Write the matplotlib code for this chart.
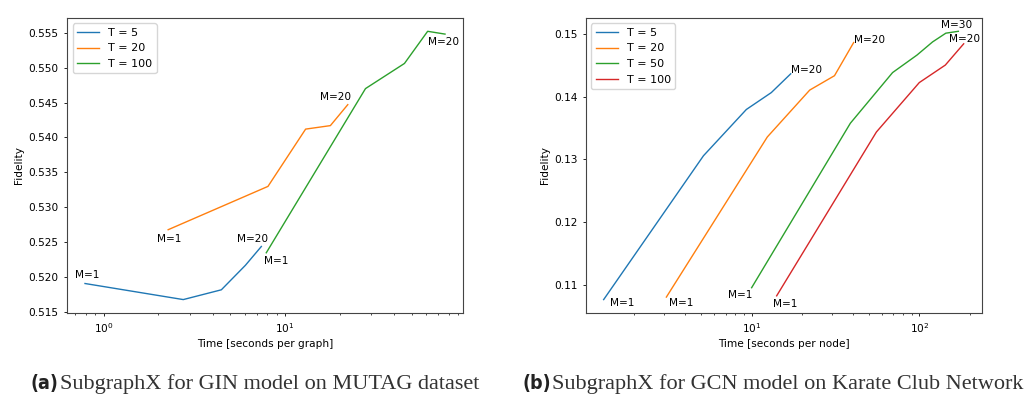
import matplotlib
matplotlib.use("Agg")
import matplotlib.pyplot as plt

# === Data (a): GIN on MUTAG ===
a_t5_x = [0.79, 2.75, 4.46, 6.05, 7.41]
a_t5_y = [0.5191, 0.5168, 0.5182, 0.5217, 0.5244]
a_t20_x = [2.27, 8.06, 13.0, 17.8, 22.2]
a_t20_y = [0.5268, 0.5330, 0.5412, 0.5417, 0.5447]
a_t100_x = [7.89, 27.8, 45.6, 61.2, 76.3]
a_t100_y = [0.5235, 0.5470, 0.5506, 0.5552, 0.5548]

# === Data (b): GCN on Karate Club ===
b_t5_x = [1.31, 5.16, 9.30, 13.1, 17.1]
b_t5_y = [0.1076, 0.1306, 0.1380, 0.1407, 0.1437]
b_t20_x = [3.10, 12.4, 22.2, 31.2, 40.6]
b_t20_y = [0.1080, 0.1336, 0.1411, 0.1434, 0.1487]
b_t50_x = [10.0, 38.8, 69.3, 96.9, 120, 144, 171]
b_t50_y = [0.1095, 0.1358, 0.1439, 0.1467, 0.1488, 0.1502, 0.1505]
b_t100_x = [14.1, 55.5, 100, 143, 184]
b_t100_y = [0.1082, 0.1344, 0.1423, 0.1451, 0.1485]

FS = 7.6
LW = 1.0
C = ['#1f77b4', '#ff7f0e', '#2ca02c', '#d62728']

fig = plt.figure(figsize=(10.34, 3.94), dpi=100)
ax1 = fig.add_axes([0.0648, 0.2056, 0.383, 0.749])
ax2 = fig.add_axes([0.5664, 0.2056, 0.383, 0.749])


def note(ax, txt, x, y, dx, dy):
    ax.annotate(txt, (x, y), xytext=(dx, dy), textcoords='offset pixels',
                ha='center', va='center', fontsize=FS)


# --- (a) ---
ax1.plot(a_t5_x, a_t5_y, color=C[0], lw=LW, label='T = 5')
ax1.plot(a_t20_x, a_t20_y, color=C[1], lw=LW, label='T = 20')
ax1.plot(a_t100_x, a_t100_y, color=C[2], lw=LW, label='T = 100')
note(ax1, 'M=1', a_t5_x[0], a_t5_y[0], 2, 9)
note(ax1, 'M=20', a_t5_x[-1], a_t5_y[-1], -9, 7)
note(ax1, 'M=1', a_t20_x[0], a_t20_y[0], 1, -9)
note(ax1, 'M=20', a_t20_x[-1], a_t20_y[-1], -12, 8)
note(ax1, 'M=1', a_t100_x[0], a_t100_y[0], 10, -8)
note(ax1, 'M=20', a_t100_x[-1], a_t100_y[-1], -1, -8)
ax1.set_xscale('log')
ax1.set_xlabel('Time [seconds per graph]', fontsize=FS, labelpad=3)
ax1.set_ylabel('Fidelity', fontsize=FS, labelpad=3)
ax1.legend(loc='upper left', fontsize=FS + 0.4)

# --- (b) ---
ax2.plot(b_t5_x, b_t5_y, color=C[0], lw=LW, label='T = 5')
ax2.plot(b_t20_x, b_t20_y, color=C[1], lw=LW, label='T = 20')
ax2.plot(b_t50_x, b_t50_y, color=C[2], lw=LW, label='T = 50')
ax2.plot(b_t100_x, b_t100_y, color=C[3], lw=LW, label='T = 100')
note(ax2, 'M=1', b_t5_x[0], b_t5_y[0], 19, -3)
note(ax2, 'M=1', b_t20_x[0], b_t20_y[0], 15, -6)
note(ax2, 'M=1', b_t50_x[0], b_t50_y[0], -11, -7)
note(ax2, 'M=1', b_t100_x[0], b_t100_y[0], 9, -8)
note(ax2, 'M=20', b_t5_x[-1], b_t5_y[-1], 16, 4)
note(ax2, 'M=20', b_t20_x[-1], b_t20_y[-1], 16, 3)
note(ax2, 'M=30', b_t50_x[-1], b_t50_y[-1], -2, 6)
note(ax2, 'M=20', b_t100_x[-1], b_t100_y[-1], 1, 5)
ax2.set_xscale('log')
ax2.set_xlabel('Time [seconds per node]', fontsize=FS, labelpad=3)
ax2.set_ylabel('Fidelity', fontsize=FS, labelpad=3)
ax2.legend(loc='upper left', fontsize=FS + 0.4)

for ax in (ax1, ax2):
    ax.tick_params(labelsize=FS, length=2.5, width=0.6)
    ax.tick_params(which='minor', length=1.5, width=0.5)
    for s in ax.spines.values():
        s.set_linewidth(0.8)
        s.set_color('#444444')

# === Captions ===
for x0, tag, cap in [(30, '(a)', 'SubgraphX for GIN model on MUTAG dataset'),
                     (522, '(b)', 'SubgraphX for GCN model on Karate Club Network')]:
    t = fig.text(x0 / 1034, 0.012, tag, fontsize=14, fontweight='bold',
                 family='DejaVu Sans', fontstretch='condensed', va='baseline',
                 color='#222222')
    fig.text(x0 / 1034 + 30 / 1034, 0.012, cap, fontsize=16,
             family='Liberation Serif', va='baseline', color='#333333')

fig.savefig('out.png', dpi=100)
